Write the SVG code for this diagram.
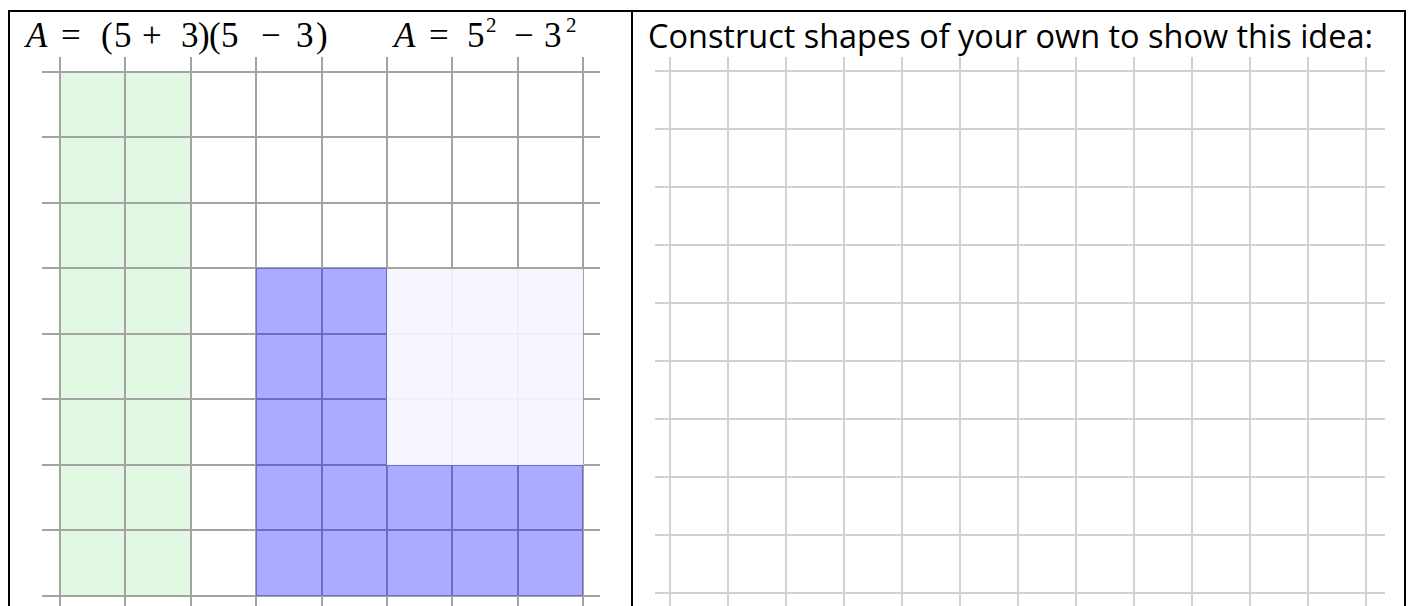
<svg xmlns="http://www.w3.org/2000/svg" width="1410" height="606" viewBox="0 0 1410 606">
<style>
.frame{fill:none;stroke:#000;stroke-width:2}
.gl{stroke:#a3a3a3;stroke-width:2;fill:none}
.gr{stroke:#d2d2d2;stroke-width:2;fill:none}
.math{font-family:"Liberation Serif","DejaVu Serif",serif;font-size:35px;fill:#000}
.sup{font-size:21px}
.cap{font-family:"Open Sans","Noto Sans",sans-serif;font-size:32px;fill:#000}
</style>
<rect width="1410" height="606" fill="#fff"/>
<g id="left-fills">
<rect id="green" x="60" y="72" width="131" height="524" fill="#6fdc6f" fill-opacity="0.2"/>
</g>
<g id="left-grid" class="gl">
<path d="M60 57V606M125 57V606M191 57V606M256 57V606M322 57V606M387 57V606M452 57V606M518 57V606M583 57V606"/>
<path d="M42 72H600M42 137H600M42 203H600M42 268H600M42 334H600M42 399H600M42 465H600M42 530H600M42 596H600"/>
</g>
<g id="left-shapes">
<path id="blue-L" d="M256 268H387V465H583V596H256Z" fill="#0000ff" fill-opacity="0.33"/>
<rect id="lavender" x="387" y="269" width="196" height="196" fill="#f5f5fe" fill-opacity="0.92"/>
</g>
<g id="right-grid" class="gr">
<path d="M670 57V606M728 57V606M786 57V606M844 57V606M902 57V606M960 57V606M1018 57V606M1076 57V606M1134 57V606M1192 57V606M1250 57V606M1308 57V606M1366 57V606"/>
<path d="M655 71H1385M655 129H1385M655 187H1385M655 245H1385M655 303H1385M655 361H1385M655 419H1385M655 477H1385M655 535H1385M655 593H1385"/>
</g>
<g id="frame" class="frame">
<path d="M9 606V11H1405V606M632 11V606"/>
</g>
<g id="texts">
<text class="math" y="47" x="26 48 61 82 101 114 131 142 163 181 198 209 221 240 261 285 296 316"><tspan font-style="italic">A</tspan> = (5 + 3)(5 − 3)</text>
<text class="math" y="47" x="394 416 429 455 467"><tspan font-style="italic">A</tspan> = 5<tspan class="sup" x="486" dy="-15">2</tspan><tspan x="500 514 540 544" dy="15"> − 3</tspan><tspan class="sup" x="566" dy="-15">2</tspan></text>
<text class="cap" x="648" y="48" textLength="725" lengthAdjust="spacingAndGlyphs">Construct shapes of your own to show this idea:</text>
</g>
</svg>
